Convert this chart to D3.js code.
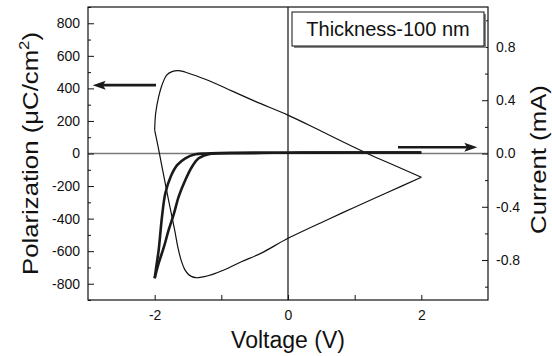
<!DOCTYPE html>
<html><head><meta charset="utf-8">
<script src="https://cdn.jsdelivr.net/npm/d3@7"></script>
<style>
body{margin:0;background:#fff;}
svg text{font-family:"Liberation Sans",Arial,sans-serif;fill:#111;}
</style></head>
<body><svg id="c" width="552" height="356"></svg>
<script>
// ---- data ----
const vTicks = [-2, -1, 0, 1, 2];
const vLabels = [-2, 0, 2];
const pMajor = [-800, -600, -400, -200, 0, 200, 400, 600, 800];
const pMinor = [-900, -700, -500, -300, -100, 100, 300, 500, 700, 900];
const iMajor = [-0.8, -0.4, 0.0, 0.4, 0.8];
const iMinor = [-1.0, -0.6, -0.2, 0.2, 0.6, 1.0];

// P-V hysteresis loop (thin line, left axis)
const pvUpperV = [2.0, 1.6, 1.19, 0.5, 0, -0.5, -1.04, -1.24, -1.49, -1.64, -1.74, -1.82, -1.89, -1.94, -1.985, -2.0];
const pvUpperP = [-146, -74, 0, 137, 236, 322, 421, 456, 493, 509, 503, 482, 421, 349, 247, 144];
const pvLowerV = [-2.0, -1.95, -1.90, -1.85, -1.80, -1.75, -1.70, -1.65, -1.60, -1.55, -1.50, -1.45, -1.38, -1.30, -1.20, -1.10, -1.00, -0.90, -0.70, -0.40, 0, 0.6, 1.0, 1.5, 2.0];
const pvLowerP = [144, 45, -60, -165, -270, -370, -470, -580, -660, -712, -740, -755, -763, -760, -751, -738, -722, -705, -665, -612, -521, -405, -330, -238, -146];

// I-V curve (thick line, right axis)
const ivRightV = [2.0, 1.0, 0, -0.8, -1.1, -1.19, -1.27, -1.34, -1.44, -1.54, -1.64, -1.71, -1.79, -1.86, -1.94, -2.0];
const ivRightI = [0.008, 0.007, 0.006, 0.004, 0.0, -0.006, -0.018, -0.036, -0.099, -0.199, -0.324, -0.449, -0.574, -0.70, -0.824, -0.937];
const ivLeftV = [-2.0, -1.97, -1.94, -1.89, -1.84, -1.76, -1.66, -1.54, -1.39, -1.24, -1.0, 0, 1.0, 2.0];
const ivLeftI = [-0.937, -0.83, -0.725, -0.475, -0.299, -0.174, -0.086, -0.036, -0.006, 0.0, 0.003, 0.006, 0.007, 0.008];

// annotation arrows (data coords)
const arrowPV = [[-1.98, 420], [-2.93, 420]];
const arrowIV = [[1.65, 0.047], [2.84, 0.047]];
const legendText = "Thickness-100 nm";

// ---- chart ----
const svg = d3.select("#c");
const L = 88, R = 488, T = 7, B = 300;
const x = d3.scaleLinear([-3, 3], [L, R]);
const yP = d3.scaleLinear([-900, 900], [B, T]);
const yI = d3.scaleLinear([-1.1, 1.1], [B, T]);

// reference lines
svg.append("line").attr("x1", L).attr("x2", R).attr("y1", yP(0)).attr("y2", yP(0))
  .attr("stroke", "#7a7a7a").attr("stroke-width", 1.5);
svg.append("line").attr("x1", x(0)).attr("x2", x(0)).attr("y1", T).attr("y2", B)
  .attr("stroke", "#111").attr("stroke-width", 1.2);

function styleAxis(g) {
  g.select(".domain").remove();
  g.selectAll(".tick line").attr("stroke", "#111").attr("stroke-width", 1);
  g.selectAll(".tick text").attr("font-size", 14).attr("fill", "#111")
    .attr("font-family", '"Liberation Sans",Arial,sans-serif');
}
// bottom
svg.append("g").attr("transform", `translate(0,${B})`)
  .call(d3.axisBottom(x).tickValues(vTicks).tickSize(-5).tickPadding(10)
    .tickFormat(d => vLabels.includes(d) ? String(d) : ""))
  .call(styleAxis);
// left
svg.append("g").attr("transform", `translate(${L},0)`)
  .call(d3.axisLeft(yP).tickValues(pMajor).tickSize(-6).tickPadding(8).tickFormat(d => String(d)))
  .call(styleAxis);
svg.append("g").attr("transform", `translate(${L},0)`)
  .call(d3.axisLeft(yP).tickValues(pMinor).tickSize(-3).tickFormat(""))
  .call(styleAxis);
// right
svg.append("g").attr("transform", `translate(${R},0)`)
  .call(d3.axisRight(yI).tickValues(iMajor).tickSize(-6).tickPadding(8).tickFormat(d => d.toFixed(1)))
  .call(styleAxis);
svg.append("g").attr("transform", `translate(${R},0)`)
  .call(d3.axisRight(yI).tickValues(iMinor).tickSize(-3).tickFormat(""))
  .call(styleAxis);

// frame
svg.append("rect").attr("x", L).attr("y", T).attr("width", R - L).attr("height", B - T)
  .attr("fill", "none").attr("stroke", "#111").attr("stroke-width", 1.2);

// curves
const lineP = d3.line().x(d => x(d[0])).y(d => yP(d[1])).curve(d3.curveCatmullRom.alpha(0.5));
const lineI = d3.line().x(d => x(d[0])).y(d => yI(d[1])).curve(d3.curveCatmullRom.alpha(0.5));
const zip = (a, b) => a.map((v, i) => [v, b[i]]);

svg.append("path").attr("d", lineP(zip(pvUpperV, pvUpperP)))
  .attr("fill", "none").attr("stroke", "#111").attr("stroke-width", 1.2).attr("stroke-linejoin", "round");
svg.append("path").attr("d", lineP(zip(pvLowerV, pvLowerP)))
  .attr("fill", "none").attr("stroke", "#111").attr("stroke-width", 1.2).attr("stroke-linejoin", "round");
svg.append("path").attr("d", lineI(zip(ivRightV, ivRightI)))
  .attr("fill", "none").attr("stroke", "#1a1a1a").attr("stroke-width", 2.6).attr("stroke-linejoin", "round");
svg.append("path").attr("d", lineI(zip(ivLeftV, ivLeftI)))
  .attr("fill", "none").attr("stroke", "#1a1a1a").attr("stroke-width", 2.6).attr("stroke-linejoin", "round");

// arrows
function arrow(p0, p1) {
  const dir = Math.sign(p1[0] - p0[0]);
  const headLen = 13, hw = 4.5;
  svg.append("line").attr("x1", p0[0]).attr("y1", p0[1]).attr("x2", p1[0] - dir * headLen * 0.8).attr("y2", p1[1])
    .attr("stroke", "#1a1a1a").attr("stroke-width", 2.6);
  svg.append("path").attr("d", `M${p1[0]},${p1[1]}L${p1[0] - dir * headLen},${p1[1] - hw}L${p1[0] - dir * headLen * 0.8},${p1[1]}L${p1[0] - dir * headLen},${p1[1] + hw}Z`)
    .attr("fill", "#1a1a1a");
}
arrow([x(arrowPV[0][0]), yP(arrowPV[0][1])], [x(arrowPV[1][0]), yP(arrowPV[1][1])]);
arrow([x(arrowIV[0][0]), yI(arrowIV[0][1])], [x(arrowIV[1][0]), yI(arrowIV[1][1])]);

// legend box
const lg = svg.append("g");
lg.append("rect").attr("x", 294).attr("y", 14).attr("width", 192).attr("height", 34).attr("fill", "#888");
lg.append("rect").attr("x", 292).attr("y", 12).attr("width", 192).attr("height", 34)
  .attr("fill", "#fff").attr("stroke", "#111").attr("stroke-width", 1);
lg.append("text").attr("x", 388).attr("y", 36).attr("text-anchor", "middle").attr("font-size", 20).text(legendText);

// axis titles
svg.append("text").attr("x", x(0)).attr("y", 348).attr("text-anchor", "middle").attr("font-size", 23).text("Voltage (V)");
const yt = svg.append("text").attr("transform", `translate(38,${yP(0)}) rotate(-90) scale(1.12,1)`)
  .attr("text-anchor", "middle").attr("font-size", 23);
yt.append("tspan").text("Polarization (\u03BCC/cm");
yt.append("tspan").attr("dy", -9).attr("font-size", 15).text("2");
yt.append("tspan").attr("dy", 9).text(")");
svg.append("text").attr("transform", `translate(546,${yP(0) + 6}) rotate(-90) scale(1.12,1)`)
  .attr("text-anchor", "middle").attr("font-size", 23).text("Current (mA)");
</script></body></html>
